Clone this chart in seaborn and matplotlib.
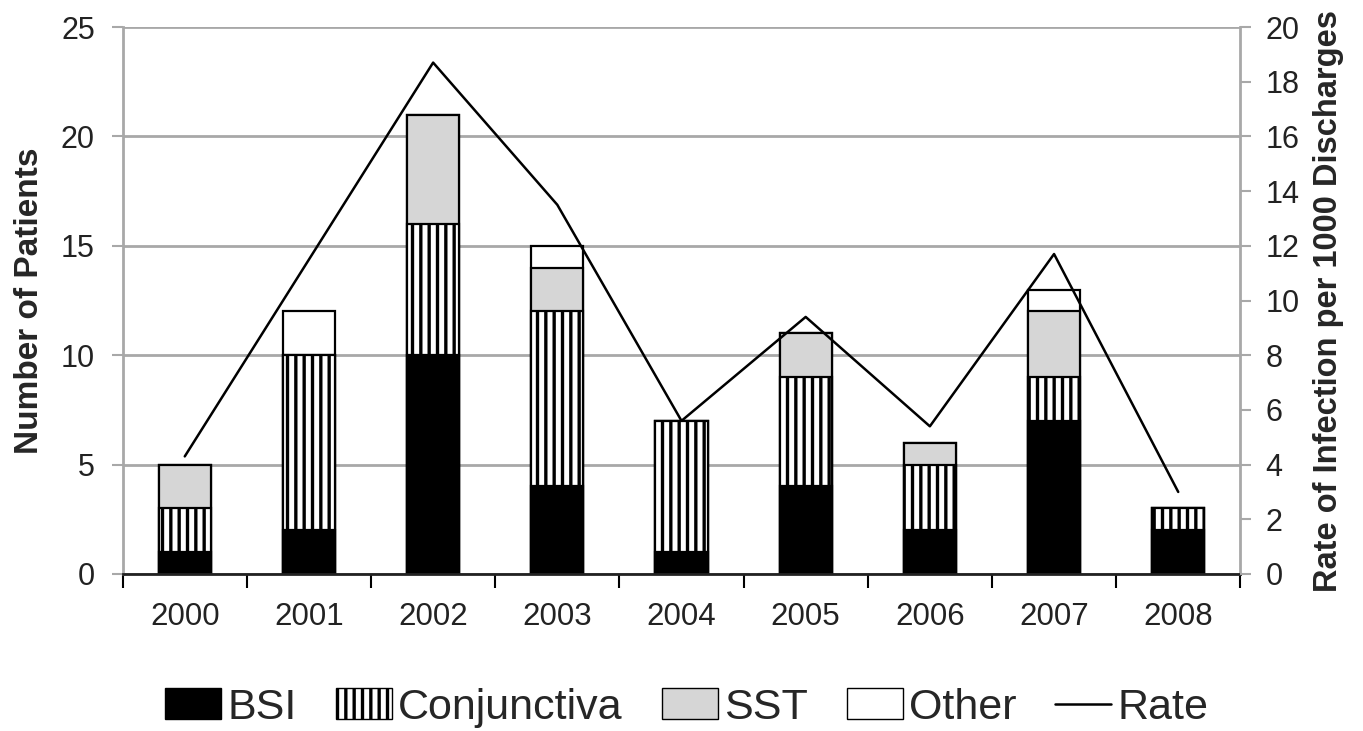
import numpy as np
import pandas as pd
import matplotlib
matplotlib.use("Agg")
import matplotlib.pyplot as plt
import seaborn as sns
from matplotlib.patches import Patch
from matplotlib.lines import Line2D

years = ["2000", "2001", "2002", "2003", "2004", "2005", "2006", "2007", "2008"]
bsi = [1, 2, 10, 4, 1, 4, 2, 7, 2]
conj = [2, 8, 6, 8, 6, 5, 3, 2, 1]
sst = [2, 0, 5, 2, 0, 2, 1, 3, 0]
other = [0, 2, 0, 1, 0, 0, 0, 1, 0]
rate = [4.3, 11.5, 18.7, 13.5, 5.6, 9.4, 5.4, 11.7, 3.0]

sns.set_theme(style="white")
plt.rcParams["font.family"] = ["Liberation Sans", "DejaVu Sans"]
plt.rcParams["hatch.linewidth"] = 2.4
plt.rcParams["hatch.color"] = "black"

df = pd.DataFrame({"year": years, "BSI": bsi, "Conjunctiva": conj, "SST": sst, "Other": other})
df["c1"] = df["BSI"]
df["c2"] = df["c1"] + df["Conjunctiva"]
df["c3"] = df["c2"] + df["SST"]
df["c4"] = df["c3"] + df["Other"]

fig = plt.figure(figsize=(13.63, 7.31), dpi=100)
ax = fig.add_axes([0.090, 0.2148, 0.820, 0.7482])

grid_c = "#a8a8a8"
ax.set_axisbelow(True)
ax.yaxis.grid(True, color=grid_c, lw=2)

layers = [("c4", "white", None), ("c3", "#d6d6d6", None), ("c2", "white", "||"), ("c1", "black", None)]
for col, fc, h in layers:
    sns.barplot(data=df, x="year", y=col, ax=ax, color=fc, edgecolor="black",
                linewidth=1.6, width=0.42, saturation=1, hatch=h, errorbar=None)

ax.set_ylim(0, 25)
ax.set_xlim(-0.5, len(years) - 0.5)
ax.set_yticks(range(0, 26, 5))
ax.set_xticks(np.arange(len(years) + 1) - 0.5, minor=False)
ax.set_xticklabels([])
ax.set_xticks(np.arange(len(years)), minor=True)
ax.set_xticklabels(years, minor=True)
ax.tick_params(axis="x", which="major", direction="out", length=10, width=1.5, color="black", bottom=True)
ax.tick_params(axis="x", which="minor", length=0, labelsize=22.5, pad=20, colors="#222222")
ax.tick_params(axis="y", direction="out", length=8, width=1.5, color=grid_c, labelsize=22, pad=12, left=True, labelcolor="#222222")
ax.set_xlabel("")
ax.set_ylabel("Number of Patients", fontsize=24, fontweight="bold", labelpad=11)
for s in ["left", "right", "top"]:
    ax.spines[s].set_color(grid_c)
    ax.spines[s].set_linewidth(2)
ax.spines["top"].set_visible(False)
ax.spines["bottom"].set_color("#222222")
ax.spines["bottom"].set_linewidth(2)

ax2 = ax.twinx()
sns.lineplot(x=np.arange(len(years)), y=rate, ax=ax2, color="black", lw=1.8)
ax2.set_ylim(0, 20)
ax2.set_yticks(range(0, 21, 2))
ax2.tick_params(axis="y", direction="out", length=8, width=1.5, color=grid_c, labelsize=22, pad=10, right=True, labelcolor="#222222")
ax2.set_ylabel("Rate of Infection per 1000 Discharges", fontsize=23.5, fontweight="bold", labelpad=10)
for s in ["left", "right", "top", "bottom"]:
    ax2.spines[s].set_visible(False)
ax2.grid(False)
ax.set_xlim(-0.5, len(years) - 0.5)

handles = [
    Patch(facecolor="black", edgecolor="black", label="BSI"),
    Patch(facecolor="white", edgecolor="black", hatch="||", label="Conjunctiva"),
    Patch(facecolor="#d6d6d6", edgecolor="black", label="SST"),
    Patch(facecolor="white", edgecolor="black", label="Other"),
    Line2D([0], [0], color="black", lw=1.8, label="Rate"),
]
fig.legend(handles=handles, loc="center", bbox_to_anchor=(0.504, 0.032), ncol=5, frameon=False,
           fontsize=31, handlelength=1.3, handleheight=0.7, handletextpad=0.15, columnspacing=0.9)

fig.savefig("out.png", dpi=100)
